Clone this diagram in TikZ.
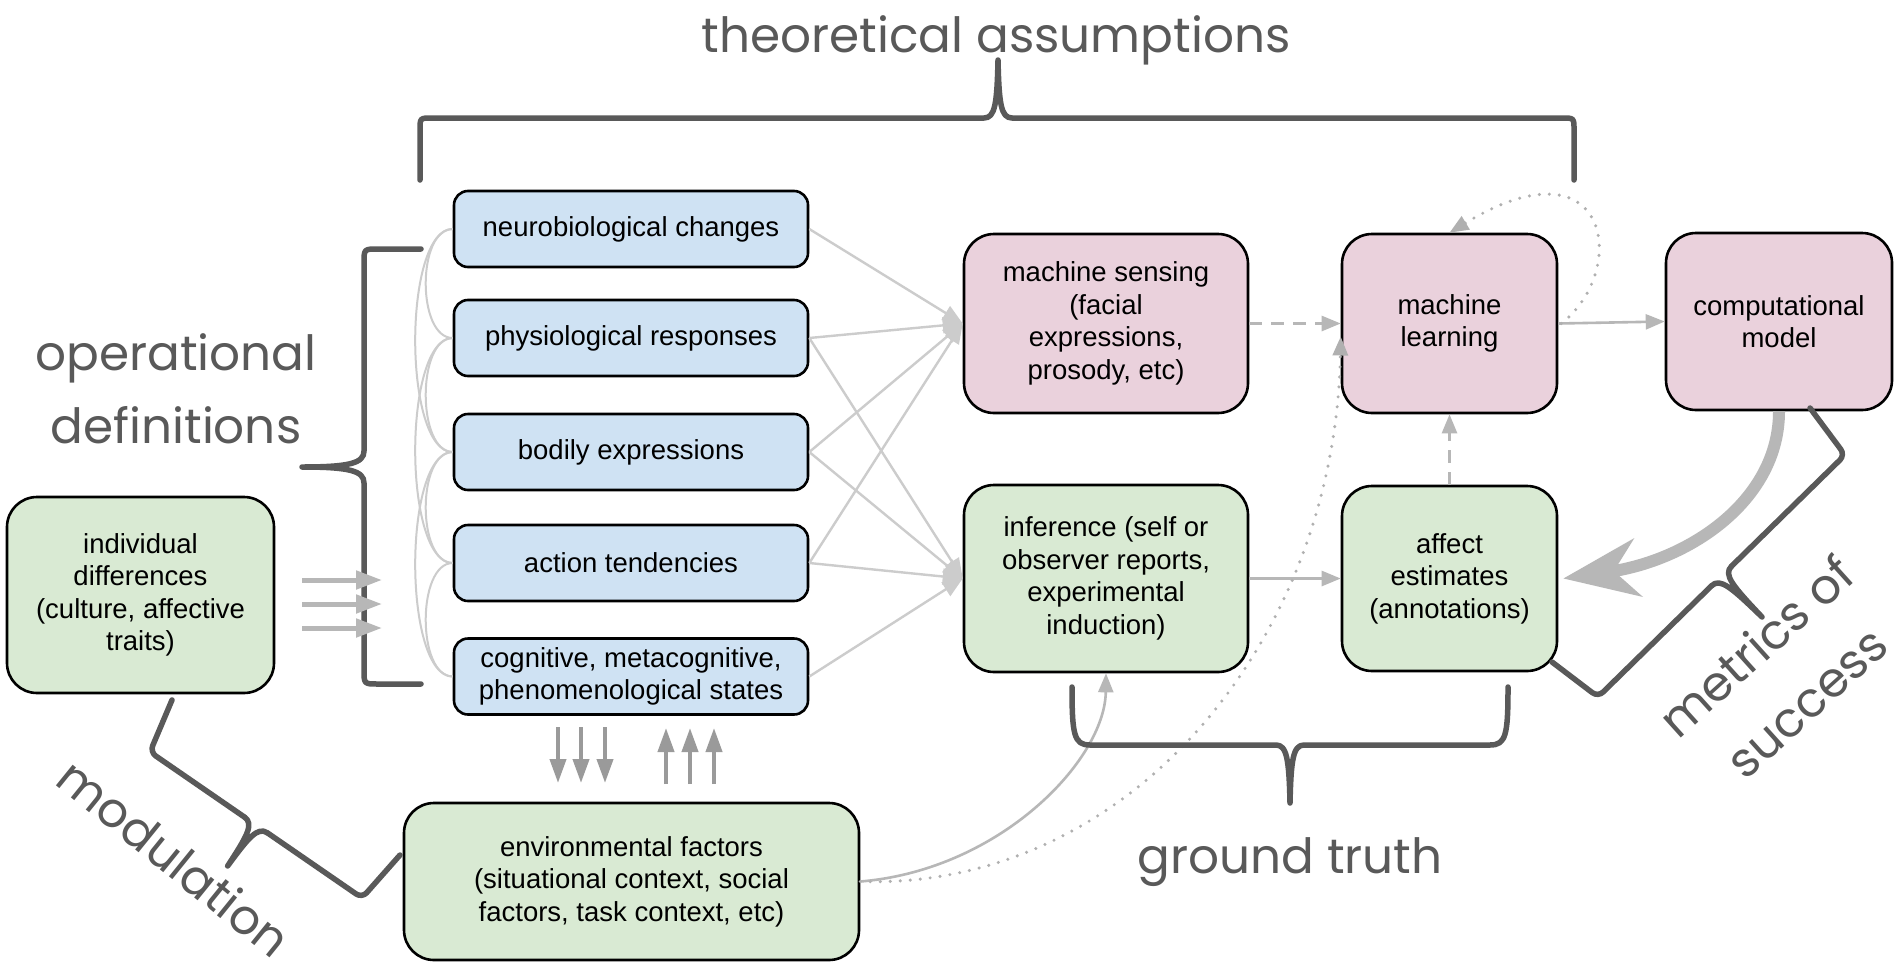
\documentclass[tikz,border=0pt]{standalone}
\usepackage{fontspec}
\usetikzlibrary{arrows.meta}
\newfontfamily\boxfont{Liberation Sans}
\newfontfamily\labelfont{Poppins}
\definecolor{bluefill}{HTML}{CFE2F3}
\definecolor{pinkfill}{HTML}{EAD1DC}
\definecolor{greenfill}{HTML}{D9EAD3}
\definecolor{bracegray}{HTML}{595959}
\definecolor{linkgray}{HTML}{CCCCCC}
\definecolor{arrowgray}{HTML}{B7B7B7}
\definecolor{dotgray}{HTML}{B0B0B0}
\definecolor{darkarrow}{HTML}{9A9A9A}
\begin{document}
\begin{tikzpicture}[x=1pt,y=-1pt,
  box/.style={draw=black, line width=2.6pt, align=center, inner sep=0pt,
    font={\boxfont\fontsize{27.5}{32.5}\selectfont}},
  smallbox/.style={box, fill=bluefill, rounded corners=14pt,
    minimum width=354pt, minimum height=76pt},
  bigbox/.style={box, rounded corners=30pt},
  tagtext/.style={font={\labelfont\fontsize{48.5}{75}\selectfont}, text=bracegray, inner sep=0pt},
  bracepath/.style={draw=bracegray, line width=5.5pt, line cap=round, line join=round},
  linkcurve/.style={draw=linkgray, line width=2pt},
  fan/.style={draw=linkgray, line width=2.4pt, -{Triangle[length=20pt,width=16pt]}},
  link/.style={draw=arrowgray, line width=2.6pt, -{Triangle[length=19pt,width=15pt]}},
  dashlink/.style={link, dash pattern=on 13pt off 9pt},
  dotlink/.style={draw=dotgray, line width=3.4pt, line cap=round, dash pattern=on 0pt off 10pt,
    -{Triangle[length=19pt,width=15pt]}},
  indarrow/.style={draw=arrowgray, line width=5pt, -{Triangle[length=26pt,width=18pt]}},
  envarrow/.style={draw=darkarrow, line width=4pt, -{Triangle[length=24pt,width=16pt]}},
  bigarrow/.style={draw=arrowgray, line width=12pt,
    -{Stealth[length=75pt,width=58pt,inset=24pt]}}
]
\fill[white] (0,0) rectangle (1897,972);
\useasboundingbox (0,0) rectangle (1897,972);

% ---------- boxes ----------
\node[smallbox] (b1) at (631,229) {neurobiological changes};
\node[smallbox] (b2) at (631,338) {physiological responses};
\node[smallbox] (b3) at (631,452) {bodily expressions};
\node[smallbox] (b4) at (631,563) {action tendencies};
\node[smallbox] (b5) at (631,676.5) {cognitive, metacognitive,\\phenomenological states};

\node[bigbox, fill=greenfill, minimum width=267pt, minimum height=196pt] (ind) at (140.5,595)
  {individual\\differences\\(culture, affective\\traits)};
\node[bigbox, fill=greenfill, minimum width=455pt, minimum height=157pt] (env) at (631.5,881.5)
  {environmental factors\\(situational context, social\\factors, task context, etc)};
\node[bigbox, fill=pinkfill, minimum width=284pt, minimum height=179pt] (ms) at (1106,323.5)
  {machine sensing\\(facial\\expressions,\\prosody, etc)};
\node[bigbox, fill=greenfill, minimum width=284pt, minimum height=187pt] (inf) at (1106,578.5)
  {inference (self or\\observer reports,\\experimental\\induction)};
\node[bigbox, fill=pinkfill, minimum width=215pt, minimum height=179pt] (ml) at (1449.5,323.5)
  {machine\\learning};
\node[bigbox, fill=greenfill, minimum width=215pt, minimum height=185pt] (aff) at (1449.5,578.5)
  {affect\\estimates\\(annotations)};
\node[bigbox, fill=pinkfill, minimum width=226pt, minimum height=177pt] (comp) at (1779,321.5)
  {computational\\model};

% ---------- links among the response components ----------
\foreach \a/\b in {b1/b2,b2/b3,b3/b4,b4/b5}
  \draw[linkcurve] (\a.west) .. controls +(-36,0) and +(-36,0) .. (\b.west);
\foreach \a/\b in {b1/b3,b2/b4,b3/b5}
  \draw[linkcurve] (\a.west) .. controls +(-50,0) and +(-50,0) .. (\b.west);

% ---------- fan of connectors ----------
\foreach \s in {b1,b2,b3,b4} \draw[fan] (\s.east) -- (ms.west);
\foreach \s in {b2,b3,b4,b5} \draw[fan] (\s.east) -- (inf.west);

% ---------- pipeline connectors ----------
\draw[dashlink] (ms.east) -- (ml.west);
\draw[link] (inf.east) -- (aff.west);
\draw[dashlink] (aff.north) -- (ml.south);
\draw[link] (ml.east) -- (comp.west);
\draw[link] (env.east) .. controls (1000,870) and (1105,760) .. (inf.south);
\draw[dotlink] (env.east) .. controls (1130,890) and (1335,640) .. ([yshift=-13pt]ml.west);
\draw[dotlink] ([xshift=3pt]ml.east) .. controls (1630,270) and (1610,135) .. (ml.north);
\draw[bigarrow] (comp.south) .. controls (1779,500) and (1690,560) .. ([xshift=5pt]aff.east);

% ---------- braces ----------
% theoretical assumptions
\draw[bracepath] (420,180) -- (420,130) .. controls (420,118) .. (432,118) -- (984,118)
  .. controls (995,118) and (997,104) .. (998,60)
  .. controls (999,104) and (1001,118) .. (1012,118) -- (1562,118)
  .. controls (1574,118) .. (1574,130) -- (1574,180);
% operational definitions
\draw[bracepath] (421,249) -- (378,249) .. controls (364,249) .. (364,263) -- (364,451)
  .. controls (364,463) and (350,467) .. (302,467)
  .. controls (350,467) and (364,471) .. (364,483) -- (364,670)
  .. controls (364,684) .. (378,684) -- (421,684);
% ground truth
\draw[bracepath] (1072,687) .. controls (1072,735) and (1074,745) .. (1090,745) -- (1276,745)
  .. controls (1287,745) and (1289,760) .. (1290,803)
  .. controls (1291,760) and (1293,745) .. (1304,745) -- (1490,745)
  .. controls (1506,745) and (1508,735) .. (1508,687);
% modulation
\draw[bracepath, rounded corners=7pt] (172,700) -- (150,752) -- (244.5,817.1);
\draw[bracepath] (244.5,817.1) .. controls (254.4,823.9) and (246.7,836.7) .. (227.6,866)
  .. controls (248.3,837.9) and (257.6,826.1) .. (267.5,832.9);
\draw[bracepath, rounded corners=7pt] (267.5,832.9) -- (362,898) -- (400,855);
% metrics of success
\draw[bracepath, rounded corners=7pt] (1810,408) -- (1845,455) -- (1731.5,566.2);
\draw[bracepath] (1731.5,566.2) .. controls (1722.9,574.6) and (1732.7,586) .. (1762,617)
  .. controls (1731.3,587.4) and (1720.1,577.4) .. (1711.5,585.8);
\draw[bracepath, rounded corners=7pt] (1711.5,585.8) -- (1598,697) -- (1552,662);

% ---------- influence arrows ----------
\foreach \y [count=\i] in {580,604,628} {
  \coordinate (is\i) at (302,\y);
  \coordinate (ie\i) at (382,\y);
  \draw[indarrow] (is\i) -- (ie\i);
}
\foreach \x [count=\i] in {558,581,605} {
  \coordinate (ds\i) at (\x,727);
  \coordinate (de\i) at (\x,783);
  \draw[envarrow] (ds\i) -- (de\i);
}
\foreach \x [count=\i] in {666,690,714} {
  \coordinate (us\i) at (\x,784);
  \coordinate (ue\i) at (\x,728);
  \draw[envarrow] (us\i) -- (ue\i);
}

% ---------- annotations ----------
\node[tagtext, anchor=base] (theo) at (996,52) {theoretical assumptions};
\node[tagtext, anchor=base] (op1) at (176,370) {operational};
\node[tagtext, anchor=base] (op2) at (176,443) {definitions};
\node[tagtext, anchor=base] (gt) at (1290,873) {ground truth};
\node[tagtext, anchor=base, rotate=-39] (mod) at (163,872) {modulation};
\node[tagtext, align=center, rotate=42] (met) at (1781,674) {metrics of\\success};
\end{tikzpicture}
\end{document}
